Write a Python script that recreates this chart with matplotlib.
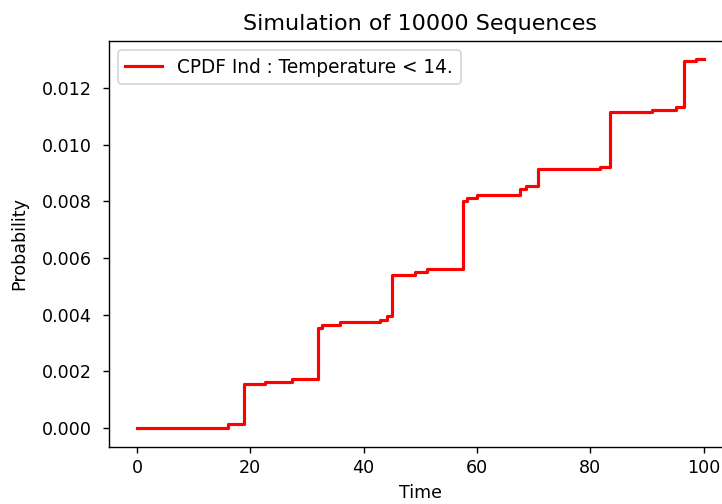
import matplotlib
matplotlib.use("Agg")
import matplotlib.pyplot as plt

# Step starts (time) and CPDF values
step_times = [0, 16.1, 18.9, 22.5, 27.4, 31.9, 32.7, 35.9, 42.9, 44.2, 45.0,
              49.0, 51.2, 57.6, 58.2, 60.0, 67.5, 68.7, 70.7, 81.7, 83.5,
              90.8, 95.2, 96.5, 98.6, 100]
step_values = [0.0, 0.00015, 0.00154, 0.00162, 0.00174, 0.00353, 0.00362,
               0.00373, 0.00382, 0.00394, 0.00541, 0.00550, 0.00562, 0.00800,
               0.00811, 0.00823, 0.00844, 0.00854, 0.00913, 0.00922, 0.01113,
               0.01122, 0.01134, 0.01293, 0.01300, 0.01300]

title = "Simulation of 10000 Sequences"
legend_label = "CPDF Ind : Temperature < 14."
x_ticks = [0, 20, 40, 60, 80, 100]

fig = plt.figure(figsize=(722 / 126, 504 / 126), dpi=126)
ax = fig.add_axes([108.7 / 722, (504 - 446.5) / 504, (732 - 108.7) / 722, (446.5 - 41) / 504])
ax.plot(step_times, step_values, color="red", drawstyle="steps-post", lw=1.8,
        label=legend_label)
ax.set_title(title, fontsize=12.7)
ax.set_xlabel("Time")
ax.set_ylabel("Probability", labelpad=7.7)
ax.set_xticks(x_ticks)
ax.tick_params(axis="y", pad=6.2)
ax.legend(loc="upper left", fontsize=10.6)
fig.savefig("out.png", dpi=126)
